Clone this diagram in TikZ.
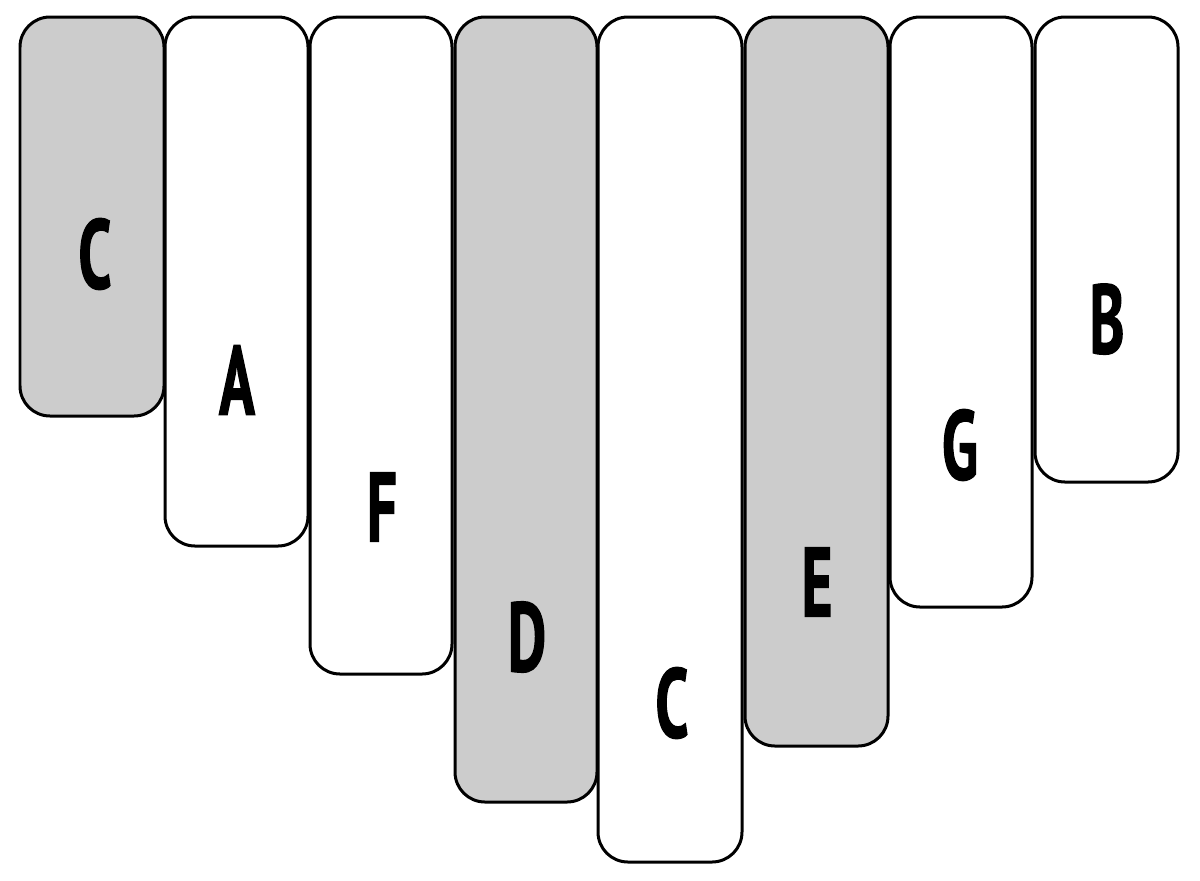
\documentclass[tikz,border=0pt]{standalone}
\usepackage{fontspec}
\newfontfamily\keyfont{PT Sans}[FakeStretch=0.6,FakeBold=1.2]
\definecolor{keygray}{HTML}{CCCCCC}
\begin{document}
\begin{tikzpicture}[x=0.02cm,y=-0.02cm,line width=0.06cm,
    key/.style={draw=black,rounded corners=0.6cm},
    grey key/.style={key,fill=keygray},
    white key/.style={key,fill=white},
    note/.style={font=\keyfont\bfseries\fontsize{56}{60}\selectfont,inner sep=0pt}]
    \useasboundingbox (0,0) rectangle (1200,880);

    \draw[grey key]  (20,17)   rectangle (164,416);
    \draw[white key] (165,17)  rectangle (308,546);
    \draw[white key] (310,17)  rectangle (452,674);
    \draw[grey key]  (455,17)  rectangle (597,802);
    \draw[white key] (598,17)  rectangle (742,862);
    \draw[grey key]  (745,17)  rectangle (888,746);
    \draw[white key] (890,17)  rectangle (1032,607);
    \draw[white key] (1035,17) rectangle (1178,482);

    \node[note] (C1) at (95,254)  {C};
    \node[note] (A)  at (237,380) {A};
    \node[note] (F)  at (382,507) {F};
    \node[note] (D)  at (527,637) {D};
    \node[note] (C2) at (672,703) {C};
    \node[note] (E)  at (817,582) {E};
    \node[note] (G)  at (960,445) {G};
    \node[note] (B)  at (1107,319) {B};
\end{tikzpicture}
\end{document}
